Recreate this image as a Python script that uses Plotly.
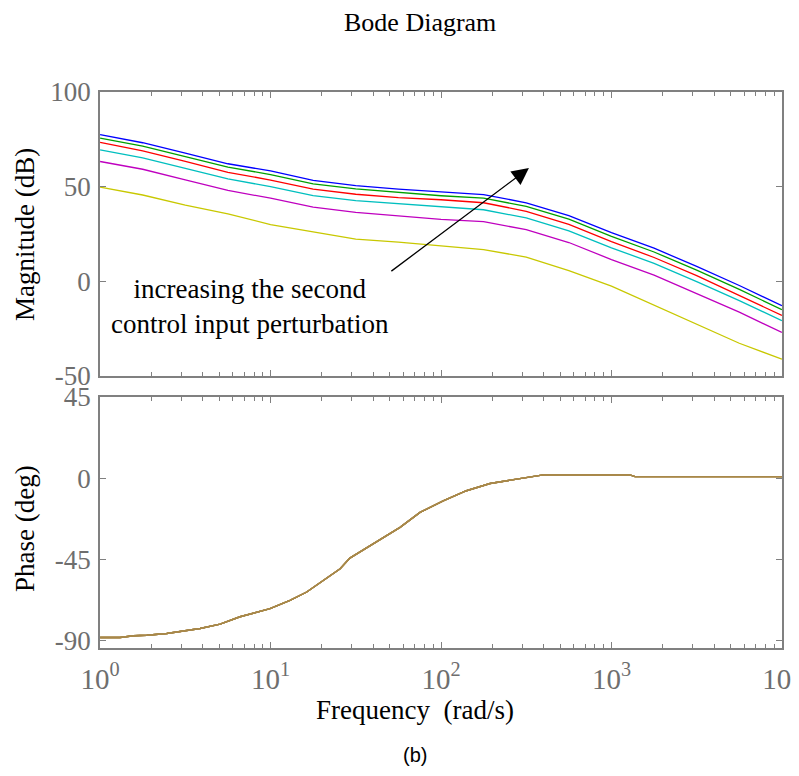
import plotly.graph_objects as go

# ---------------- data ----------------
freq = [1, 1.778, 3.162, 5.623, 10, 17.78, 31.62, 56.23, 100, 177.8, 316.2,
        562.3, 1000, 1778, 3162, 5623, 10000]

mag_blue = [77.5, 73.2, 67.7, 62.1, 58.3, 53.3, 50.6, 48.7, 47.2, 45.8, 41.5,
            34.7, 25.7, 17.5, 7.9, -2.2, -12.9]
mag_green = [75.6, 71.4, 65.9, 60.3, 56.4, 51.5, 48.8, 46.9, 45.2, 43.9, 39.6,
             32.8, 23.8, 15.5, 5.9, -4.2, -15.0]
mag_red = [73.4, 68.9, 63.3, 57.6, 53.5, 48.7, 46.0, 44.2, 43.1, 41.5, 37.0,
           30.1, 21.0, 12.6, 3.0, -7.3, -18.0]
mag_cyan = [69.4, 65.2, 59.7, 54.1, 50.0, 45.3, 42.6, 40.9, 39.2, 37.8, 33.5,
            26.7, 17.7, 9.5, -0.2, -10.2, -20.8]
mag_magenta = [63.3, 59.2, 53.6, 48.0, 43.9, 39.2, 36.4, 34.7, 32.7, 31.5, 27.3,
               20.5, 11.5, 3.3, -6.3, -16.3, -27.0]
mag_yellow = [49.8, 45.6, 40.3, 35.6, 30.0, 26.1, 22.3, 20.7, 18.8, 16.8, 12.8,
              5.6, -2.5, -12.5, -22.8, -32.7, -41.1]

phase_freq = [1, 1.31, 1.57, 1.88, 2.46, 2.94, 3.86, 5.06, 6.62, 9.93, 13.0,
              16.3, 19.5, 25.6, 29.2, 38.4, 57.5, 75.3, 103, 141, 194, 278,
              398, 1282, 1374, 10000]
phase_deg = [-88.2, -88.2, -87.2, -86.9, -86.0, -85.0, -83.2, -80.8, -76.7,
             -72.2, -67.6, -63.0, -58.0, -50.1, -44.2, -37.3, -27.2, -18.9,
             -12.5, -6.9, -2.9, -0.5, 1.9, 1.9, 0.9, 0.9]

series_names = ["1", "2", "3", "4", "5", "6"]
series_colors = ["#0000ff", "#00a000", "#ff0000", "#00bfbf", "#bf00bf", "#c8c800"]
mag_series = [mag_blue, mag_green, mag_red, mag_cyan, mag_magenta, mag_yellow]
phase_color = "#a8884a"

x_tickvals = [1, 10, 100, 1000, 10000]
x_ticktext = ["10<sup>0</sup>", "10<sup>1</sup>", "10<sup>2</sup>",
              "10<sup>3</sup>", "10<sup>4</sup>"]
x_minor = [m * 10 ** k for k in range(4) for m in range(2, 10)]
mag_ticks = [-50, 0, 50, 100]
mag_ticktext = ["-50", "0", "50", "100"]
phase_ticks = [-90, -45, 0, 45]
phase_ticktext = ["-90", "-45", "0", "45"]

# ---------------- figure ----------------
fig = go.Figure()
for name, col, vals in zip(series_names, series_colors, mag_series):
    fig.add_trace(go.Scatter(x=freq, y=vals, mode="lines", name=name,
                             line=dict(color=col, width=1.3),
                             xaxis="x", yaxis="y", showlegend=False))
for name in series_names:
    fig.add_trace(go.Scatter(x=phase_freq, y=phase_deg, mode="lines", name=name,
                             line=dict(color=phase_color, width=1.4),
                             xaxis="x2", yaxis="y2", showlegend=False))

SERIF = "Liberation Serif, Times New Roman, serif"
GRAY = "#6e6e6e"
AX = "#808080"

common_x = dict(type="log", range=[-0.0005, 4.0005], showline=True, linecolor=AX,
                linewidth=1.5, mirror="ticks", ticks="inside", ticklen=6,
                tickcolor=AX, tickvals=x_tickvals, ticktext=x_ticktext,
                showgrid=False, zeroline=False, automargin=False,
                ticklabeloverflow="allow",
                minor=dict(tickvals=x_minor, ticks="inside", ticklen=4,
                           tickcolor=AX, showgrid=False),
                tickfont=dict(family=SERIF, size=29, color=GRAY))
common_y = dict(showline=True, linecolor=AX, linewidth=1.5, mirror="ticks",
                ticks="inside", ticklen=6, tickcolor=AX, showgrid=False,
                zeroline=False, automargin=False,
                tickfont=dict(family=SERIF, size=27, color=GRAY))

top_lo = (648 - 376) / 556
bot_hi = (648 - 397) / 556

fig.update_layout(
    width=791, height=768,
    margin=dict(l=92, r=17, t=84, b=128),
    paper_bgcolor="white", plot_bgcolor="white",
    xaxis=dict(**common_x, domain=[0, 1], anchor="y", showticklabels=False),
    yaxis=dict(**common_y, domain=[top_lo, 1], anchor="x", range=[-50, 100],
               tickvals=mag_ticks, ticktext=mag_ticktext),
    xaxis2=dict(**common_x, domain=[0, 1], anchor="y2"),
    yaxis2=dict(**common_y, domain=[0, bot_hi], anchor="x2", range=[-94, 45],
                tickvals=phase_ticks, ticktext=phase_ticktext),
)

fig.update_xaxes(ticklabelstandoff=4)
fig.update_yaxes(ticklabelstandoff=2)

ann = [
    dict(text="Bode Diagram", xref="paper", yref="paper", x=0.469, y=1,
         yshift=70, showarrow=False, font=dict(family=SERIF, size=26, color="black"),
         xanchor="center", yanchor="middle"),
    dict(text="Magnitude (dB)", xref="paper", yref="paper", x=-0.11,
         y=(top_lo + 1) / 2, textangle=-90, showarrow=False,
         font=dict(family=SERIF, size=27, color="black"), xanchor="center",
         yanchor="middle"),
    dict(text="Phase (deg)", xref="paper", yref="paper", x=-0.11,
         y=bot_hi / 2 - 0.01, textangle=-90, showarrow=False,
         font=dict(family=SERIF, size=27, color="black"), xanchor="center",
         yanchor="middle"),
    dict(text="Frequency  (rad/s)", xref="paper", yref="paper", x=0.462, y=0,
         yshift=-62, showarrow=False, font=dict(family=SERIF, size=27, color="black"),
         xanchor="center", yanchor="middle"),
    dict(text="(b)", xref="paper", yref="paper", x=0.462, y=0, yshift=-107,
         showarrow=False, font=dict(family="Liberation Sans, Arial, sans-serif",
                                    size=20, color="black"),
         xanchor="center", yanchor="middle"),
    dict(text="increasing the second<br>control input perturbation", xref="x",
         yref="y", x=0.88, y=-13.4, showarrow=False, align="center",
         font=dict(family=SERIF, size=27, color="black"), xanchor="center",
         yanchor="middle"),
    dict(text="", xref="x", yref="y", x=2.516, y=59.8, axref="x", ayref="y",
         ax=1.70, ay=4.8, showarrow=True, arrowhead=2, arrowsize=2.6,
         arrowwidth=1.3, arrowcolor="black"),
]
fig.update_layout(annotations=ann)

fig.write_html("out.html")
